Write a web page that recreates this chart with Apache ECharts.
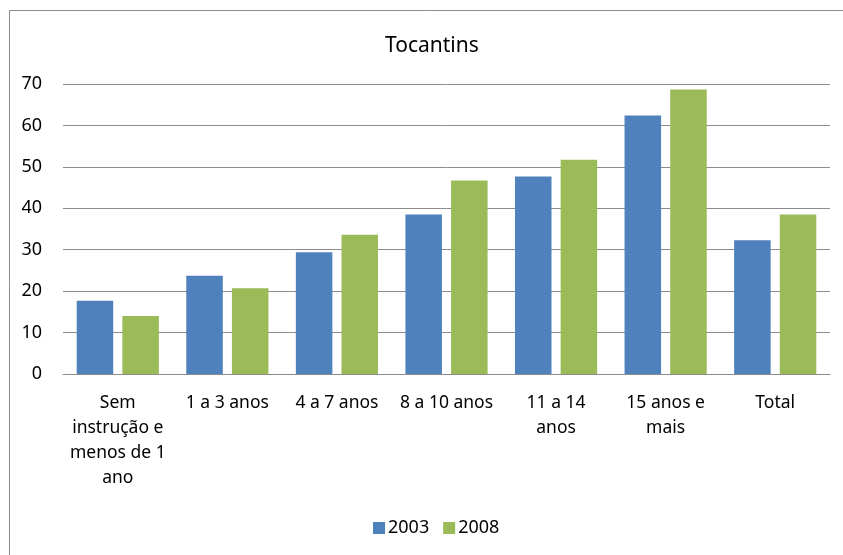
<!DOCTYPE html>
<html>
<head>
<meta charset="utf-8">
<script src="https://cdn.jsdelivr.net/npm/echarts@6/dist/echarts.min.js"></script>
<style>html,body{margin:0;padding:0;background:#fff}#c{width:843px;height:555px}</style>
</head>
<body>
<div id="c"></div>
<script>
const categories = ["Sem\ninstrução e\nmenos de 1\nano", "1 a 3 anos", "4 a 7 anos", "8 a 10 anos", "11 a 14\nanos", "15 anos e\nmais", "Total"];
const series2003 = [17.7, 23.7, 29.4, 38.5, 47.7, 62.4, 32.3];
const series2008 = [14.0, 20.7, 33.6, 46.7, 51.7, 68.7, 38.5];
const yTicks = { min: 0, max: 70, interval: 10 };
const FONT = 'Noto Sans';

const chart = echarts.init(document.getElementById('c'), null, { renderer: 'canvas' });
chart.setOption({
  animation: false,
  backgroundColor: '#fff',
  graphic: [{
    type: 'rect', left: 7, top: 8, silent: true,
    shape: { width: 900, height: 600 },
    style: { fill: 'none', stroke: '#8c8c8c', lineWidth: 1 }
  }],
  title: {
    text: 'Tocantins', left: 380, top: 31,
    textStyle: { fontFamily: FONT, fontSize: 21, fontWeight: 'normal', color: '#000' }
  },
  legend: {
    bottom: 13, left: 368, itemWidth: 12, itemHeight: 12, itemGap: 14,
    icon: 'rect',
    textStyle: { fontFamily: FONT, fontSize: 18, color: '#000', padding: [0, 0, 0, -2] },
    data: ['2003', '2008']
  },
  grid: { left: 63, right: 13, top: 84, bottom: 181, containLabel: false },
  xAxis: {
    type: 'category', data: categories,
    axisLine: { show: true, lineStyle: { color: '#8c8c8c', width: 1 } },
    axisTick: { show: false },
    axisLabel: { fontFamily: FONT, fontSize: 17.5, color: '#000', lineHeight: 25, margin: 17, interval: 0 }
  },
  yAxis: {
    type: 'value', min: yTicks.min, max: yTicks.max, interval: yTicks.interval,
    axisLine: { show: false }, axisTick: { show: false },
    axisLabel: { fontFamily: FONT, fontSize: 18, color: '#000', margin: 21 },
    splitLine: { lineStyle: { color: '#8c8c8c', width: 1 } }
  },
  series: [
    { name: '2003', type: 'bar', data: series2003, barGap: '25%', barCategoryGap: '25%',
      itemStyle: { color: '#4f81bd' } },
    { name: '2008', type: 'bar', data: series2008,
      itemStyle: { color: '#9bbb59' } }
  ]
});
</script>
</body>
</html>
